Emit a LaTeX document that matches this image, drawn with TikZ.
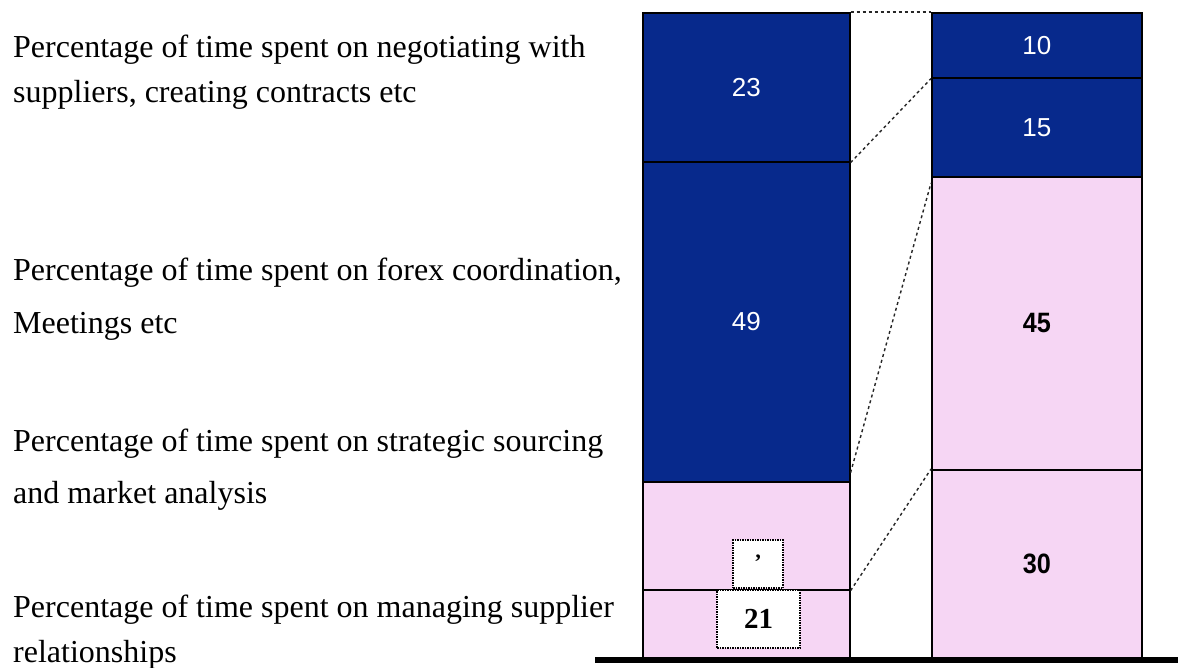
\documentclass[tikz,border=0pt]{standalone}
\usepackage{fontspec}
\setmainfont{Liberation Serif}
\newfontfamily\numfont{Liberation Sans}
\usetikzlibrary{calc}
\definecolor{barblue}{HTML}{07298C}
\definecolor{barpink}{HTML}{F6D6F4}
\begin{document}
\begin{tikzpicture}[x=1pt,y=-1pt,
  lbl/.style={anchor=base west,inner sep=0pt,align=left,font=\fontsize{32}{45}\selectfont},
  seg/.style={draw=black,line width=1.6pt,anchor=north west,inner sep=0pt},
  blueseg/.style={seg,fill=barblue,text=white,font=\numfont\fontsize{26}{26}\selectfont},
  pinkseg/.style={seg,fill=barpink,text=black,font=\numfont\bfseries\fontsize{28}{28}\selectfont},
  dotbox/.style={draw=black,fill=white,line width=1.4pt,dash pattern=on 1.5pt off 1pt,inner sep=0pt},
  link/.style={draw=black!85,line width=1.4pt,dash pattern=on 3pt off 3pt}]
\useasboundingbox (0,0) rectangle (1180,667);
\fill[white] (0,0) rectangle (1180,667);
% labels
\node[lbl] (t1) at (13,102) {Percentage of time spent on negotiating with\\suppliers, creating contracts etc};
\node[lbl] (t2) at (13,333) {Percentage of time spent on forex coordination,\\[8pt]Meetings etc};
\node[lbl] (t3) at (13,503) {Percentage of time spent on strategic sourcing\\[7pt]and market analysis};
\node[lbl] (t4) at (13,662) {Percentage of time spent on managing supplier\\relationships};
% left bar
\node[blueseg,minimum width=207pt,minimum height=149pt] (L1) at (642,12) {23};
\node[blueseg,minimum width=207pt,minimum height=320pt] (L2) at (642,161) {49};
\node[pinkseg,minimum width=207pt,minimum height=108pt] (L3) at (642,481) {};
\node[pinkseg,minimum width=207pt,minimum height=69pt] (L4) at (642,589) {};
% right bar
\node[blueseg,minimum width=210pt,minimum height=65pt] (R1) at (931,12) {10};
\node[blueseg,minimum width=210pt,minimum height=99pt] (R2) at (931,77) {15};
\node[pinkseg,minimum width=210pt,minimum height=293pt] (R3) at (931,176) {\scalebox{0.9}[1]{45}};
\node[pinkseg,minimum width=210pt,minimum height=189pt] (R4) at (931,469) {\scalebox{0.9}[1]{30}};
% dotted boxes
\node[dotbox,minimum width=50pt,minimum height=48pt,font=\bfseries\fontsize{22}{22}\selectfont] (S1) at (758,564) {\raisebox{4pt}{'}};
\node[dotbox,minimum width=83pt,minimum height=58pt,font=\bfseries\fontsize{29}{29}\selectfont] (S2) at (758.5,619) {21};
% connectors
\draw[link] (L1.north east) -- (R1.north west);
\draw[link] (L1.south east) -- (R1.south west);
\draw[link] ([yshift=10pt]L2.south east) -- ([yshift=-7pt]R3.north west);
\draw[link] (L3.south east) -- (R4.north west);
% base line
\coordinate (g1) at (595,660);
\coordinate (g2) at (1178,660);
\draw[line width=6pt] (g1) -- (g2);
\end{tikzpicture}
\end{document}
